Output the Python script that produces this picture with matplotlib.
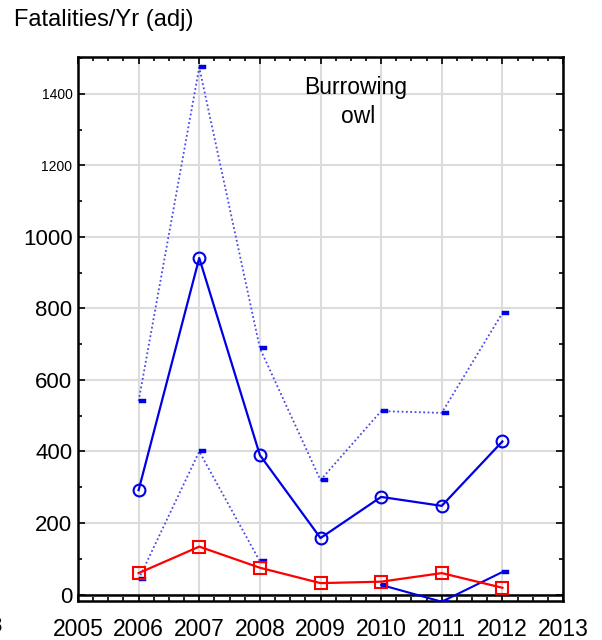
import numpy as np
import matplotlib
matplotlib.use("Agg")
import matplotlib.pyplot as plt
from matplotlib.path import Path
from matplotlib.ticker import MultipleLocator

plt.rcParams['font.family'] = ['Liberation Sans', 'DejaVu Sans']

years = [2006, 2007, 2008, 2009, 2010, 2011, 2012]
burrowing_owl = [292, 941, 390, 158, 273, 248, 428]
upper_bound = [541, 1474, 689, 320, 513, 508, 787]
lower_bound = [43, 400, 93, np.nan, 27, -20, 63]
reference = [60, 134, 75, 32, 36, 60, 19]

x_ticks = [2005, 2006, 2007, 2008, 2009, 2010, 2011, 2012, 2013]
y_ticks_large = [0, 200, 400, 600, 800, 1000]
y_ticks_small = [1200, 1400]

# short bar marker sitting just right of the point
dash = Path([(0, -0.4), (1.8, -0.4), (1.8, 0.4), (0, 0.4), (0, -0.4)],
            [Path.MOVETO, Path.LINETO, Path.LINETO, Path.LINETO, Path.CLOSEPOLY])

fig = plt.figure(figsize=(6.02, 6.40), dpi=100)
ax = fig.add_axes([78 / 602, 1 - 601 / 640, (563 - 78) / 602, (601 - 57) / 640])

ax.set_xlim(2005, 2013)
ax.set_ylim(-18, 1503)

ax.grid(True, which='major', color='#dcdcdc', linewidth=1.5, zorder=0)
ax.set_axisbelow(True)
ax.axhline(0, color='black', linewidth=1.8, zorder=1)

blue = '#0000e6'
dot_blue = '#4a4ae8'
dotted = (0, (1, 1.4))
yrs = np.array(years, dtype=float)
lo = np.array(lower_bound, dtype=float)

bar_style = dict(marker=dash, markersize=10, markerfacecolor=blue,
                 markeredgecolor=blue, markeredgewidth=0.3)

# upper bound, dotted
ax.plot(years, upper_bound, linestyle=dotted, color=dot_blue, linewidth=1.3,
        zorder=3, **bar_style)
# lower bound: dotted for the early years, solid for the later ones
ax.plot(yrs[:3], lo[:3], linestyle=dotted, color=dot_blue, linewidth=1.3,
        zorder=3, **bar_style)
ax.plot(yrs[4:], lo[4:], linestyle='-', color=blue, linewidth=1.5,
        zorder=3, **bar_style)

ax.plot(years, burrowing_owl, color=blue, linewidth=1.6, marker='o',
        markersize=8.5, markerfacecolor='none', markeredgecolor=blue,
        markeredgewidth=1.5, zorder=4)
ax.plot(years, reference, color='#ff0000', linewidth=1.6, marker='s',
        markersize=8.5, markerfacecolor='none', markeredgecolor='#ff0000',
        markeredgewidth=1.5, zorder=4)

ax.xaxis.set_minor_locator(MultipleLocator(0.25))
ax.yaxis.set_minor_locator(MultipleLocator(100))
ax.set_xticks(x_ticks)
ax.set_xticklabels([str(v) for v in x_ticks], fontsize=16.5)
y_ticks = y_ticks_large + y_ticks_small
ax.set_yticks(y_ticks)
ax.set_yticklabels([str(v) for v in y_ticks])
for lab, v in zip(ax.get_yticklabels(), y_ticks):
    lab.set_fontsize(16 if v in y_ticks_large else 10)

ax.tick_params(axis='both', which='both', direction='in', top=True, right=True,
               width=1.2, color='black')
ax.tick_params(axis='both', which='major', length=5)
ax.tick_params(axis='both', which='minor', length=3)
ax.tick_params(axis='x', which='major', pad=12)
ax.tick_params(axis='y', which='major', pad=4)
for s in ax.spines.values():
    s.set_linewidth(1.8)

ax.text(2009.58, 1400, 'Burrowing', ha='center', va='baseline', fontsize=16.5)
ax.text(2009.62, 1319, 'owl', ha='center', va='baseline', fontsize=16.5)

fig.text(14 / 602, 1 - 20 / 640, 'Fatalities/Yr (adj)', ha='left', va='center',
         fontsize=17)
fig.text(2 / 602, 1 - 626 / 640, '8', ha='right', va='center', fontsize=16)

fig.savefig('out.png', dpi=100)
